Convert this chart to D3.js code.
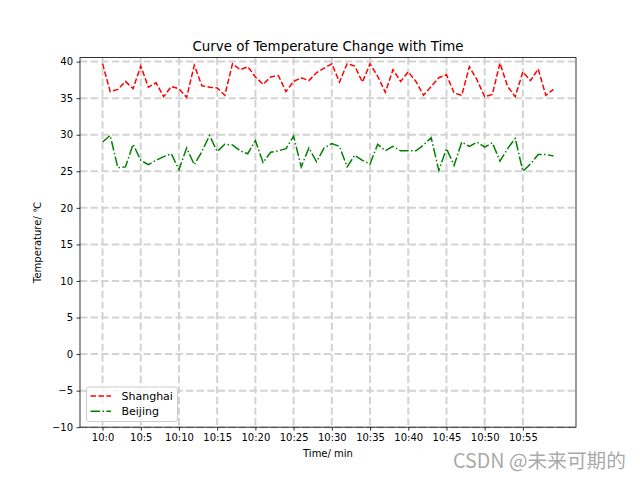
<!DOCTYPE html>
<html><head><meta charset="utf-8">
<script src="https://cdn.jsdelivr.net/npm/d3@7"></script>
<style>body{margin:0;background:#fff;}svg{display:block;font-family:"DejaVu Sans",sans-serif;}</style>
</head><body><svg id="c" width="640" height="480"></svg>
<script>
const minutes = d3.range(0, 60);
const tickMinutes = d3.range(0, 60, 5);
const tickLabels = tickMinutes.map(m => "10:" + m);
const yTicks = d3.range(-10, 45, 5);
const shanghai = [39.7,35.9,36.2,37.3,36.3,39.4,36.5,37.1,35.2,36.6,
  36.3,35.1,39.5,36.7,36.5,36.4,35.4,39.7,38.9,39.3,
  37.9,36.9,37.9,38.1,35.9,37.3,37.8,37.4,38.5,39.1,
  39.7,37.2,39.7,39.4,37.2,39.7,38.0,35.8,38.9,37.3,
  38.6,37.3,35.4,36.6,37.8,38.2,35.7,35.4,39.3,37.5,
  35.2,35.5,39.8,36.6,35.2,38.6,37.4,39.0,35.4,36.2];
const beijing = [29.0,29.9,25.5,25.6,28.7,26.5,25.9,26.5,27.0,27.4,
  25.2,28.2,25.9,27.7,29.9,27.7,28.7,28.6,27.8,27.4,
  29.2,26.2,27.6,27.8,28.1,29.8,25.6,28.2,26.3,28.2,
  28.8,28.4,25.6,27.2,26.5,26.0,28.7,27.8,28.4,27.8,
  27.8,27.8,28.6,29.6,25.1,28.1,25.8,29.0,28.4,29.0,
  28.3,28.9,26.4,28.1,29.5,25.0,26.0,27.3,27.3,27.1];
const seriesNames = ["Shanghai", "Beijing"];

const svg = d3.select("#c");
const L = 80, R = 576, T = 57.6, B = 427.2;
const x = d3.scaleLinear().domain([-2.95, 61.95]).range([L, R]);
const y = d3.scaleLinear().domain([-10, 40.55]).range([B, T]);

// grid
const g = svg.append("g");
g.selectAll(".gx").data(tickMinutes).enter().append("line")
  .attr("x1", d => x(d)).attr("x2", d => x(d)).attr("y1", T).attr("y2", B)
  .attr("stroke", "#d3d3d3").attr("stroke-width", 2).attr("stroke-dasharray", "7.4,3.2");
g.selectAll(".gy").data(yTicks).enter().append("line")
  .attr("x1", L).attr("x2", R).attr("y1", d => y(d)).attr("y2", d => y(d))
  .attr("stroke", "#d3d3d3").attr("stroke-width", 2).attr("stroke-dasharray", "7.4,3.2");

// lines
const line = d3.line().x((d, i) => x(minutes[i])).y(d => y(d));
svg.append("path").datum(shanghai).attr("d", line).attr("fill", "none")
  .attr("stroke", "red").attr("stroke-width", 1.5).attr("stroke-dasharray", "5.55,2.4");
svg.append("path").datum(beijing).attr("d", line).attr("fill", "none")
  .attr("stroke", "green").attr("stroke-width", 1.5).attr("stroke-dasharray", "9.6,2.4,1.5,2.4");

// axes
const xAxis = d3.axisBottom(x).tickValues(tickMinutes).tickFormat((d, i) => tickLabels[i]).tickSize(3.5).tickPadding(3.5);
const yAxis = d3.axisLeft(y).tickValues(yTicks).tickSize(3.5).tickPadding(3.5);
const gx = svg.append("g").attr("transform", `translate(0,${B})`).call(xAxis);
const gy = svg.append("g").attr("transform", `translate(${L},0)`).call(yAxis);
[gx, gy].forEach(a => {
  a.select(".domain").remove();
  a.selectAll("text").attr("font-size", 10).attr("font-family", "DejaVu Sans").attr("fill", "#000");
  a.selectAll("line").attr("stroke", "#000").attr("stroke-width", 0.8);
});
svg.append("rect").attr("x", L).attr("y", T).attr("width", R - L).attr("height", B - T)
  .attr("fill", "none").attr("stroke", "#000").attr("stroke-width", 0.8);

// labels
svg.append("text").attr("x", (L + R) / 2).attr("y", 50.7).attr("text-anchor", "middle")
  .attr("font-size", 13.4).text("Curve of Temperature Change with Time");
svg.append("text").attr("x", (L + R) / 2).attr("y", 457).attr("text-anchor", "middle")
  .attr("font-size", 10).text("Time/ min");
svg.append("text").attr("transform", `translate(41,${(T + B) / 2}) rotate(-90)`)
  .attr("text-anchor", "middle").attr("font-size", 10).text("Temperature/ ℃");

// legend
const lg = svg.append("g");
lg.append("rect").attr("x", 86.5).attr("y", 387).attr("width", 91).attr("height", 34.5)
  .attr("rx", 2.5).attr("fill", "#fff").attr("fill-opacity", 0.8).attr("stroke", "#ccc").attr("stroke-width", 1);
const lstyles = [{c: "red", d: "5.55,2.4"}, {c: "green", d: "9.6,2.4,1.5,2.4"}];
seriesNames.forEach((n, i) => {
  const yy = 396 + i * 15.2;
  lg.append("line").attr("x1", 90.5).attr("x2", 111).attr("y1", yy).attr("y2", yy)
    .attr("stroke", lstyles[i].c).attr("stroke-width", 1.5).attr("stroke-dasharray", lstyles[i].d);
  lg.append("text").attr("x", 121.5).attr("y", yy + 4.2).attr("font-size", 11).text(n);
});

// watermark
svg.append("text").attr("x", 626).attr("y", 468).attr("text-anchor", "end")
  .attr("font-family", "'Noto Sans CJK SC', sans-serif").attr("font-size", 19.7)
  .attr("fill", "#999").attr("fill-opacity", 0.85).text("CSDN @未来可期的");
</script></body></html>
